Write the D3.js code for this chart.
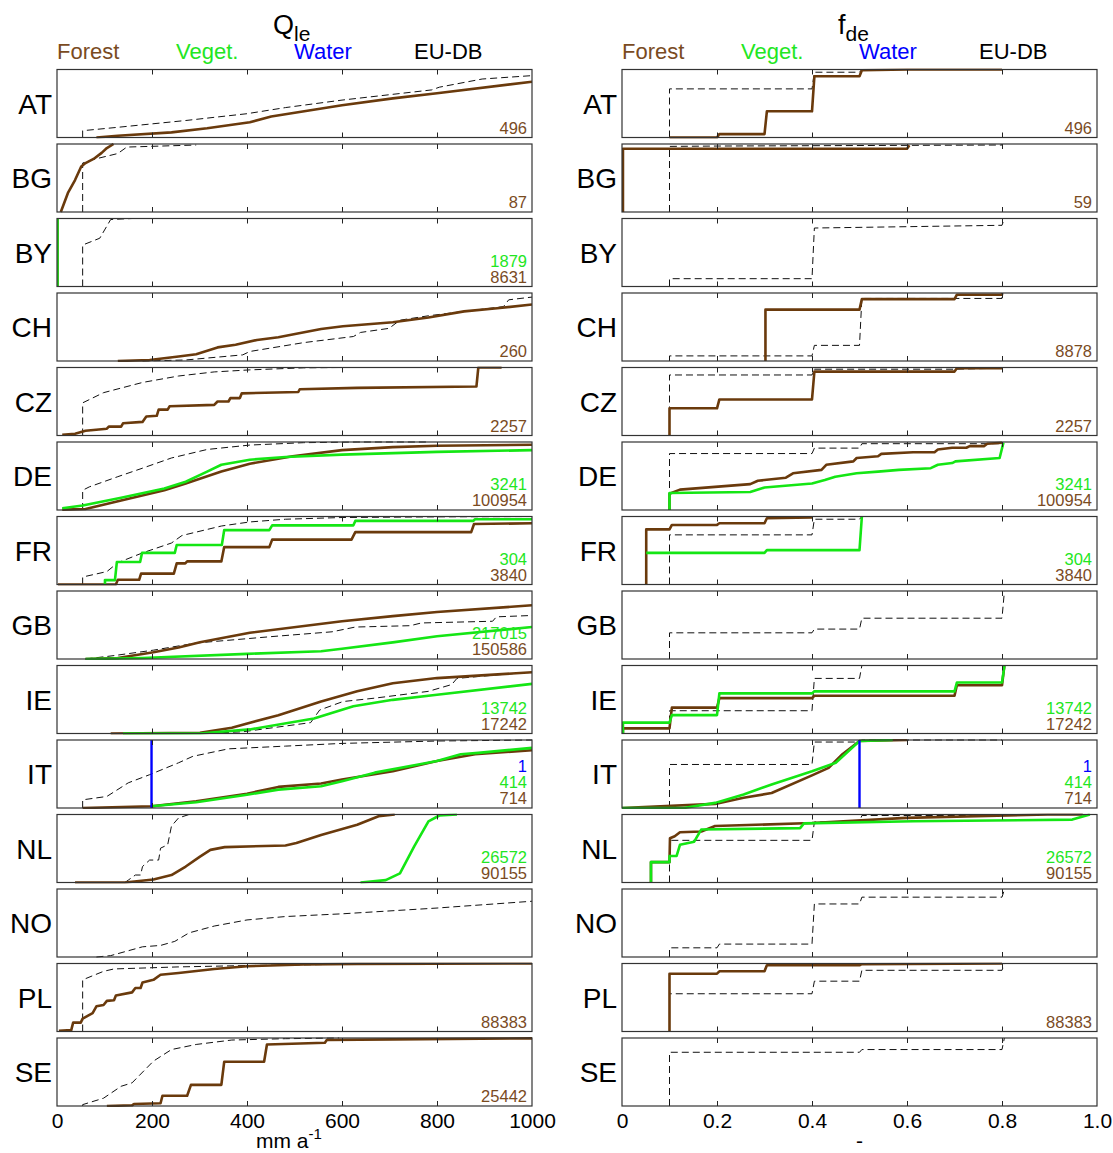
<!DOCTYPE html>
<html>
<head>
<meta charset="utf-8">
<script src="https://cdn.jsdelivr.net/npm/d3@7"></script>
<style>
  body { margin: 0; background: #fff; }
  svg { display: block; }
  text { font-family: "Liberation Sans", Arial, Helvetica, sans-serif; }
</style>
</head>
<body>
<svg id="chart" width="1113" height="1153"></svg>
<script>
// ---------------------------------------------------------------
// Data: cumulative distributions per country, as [value, fraction]
// ---------------------------------------------------------------
const countries = ["AT", "BG", "BY", "CH", "CZ", "DE", "FR", "GB", "IE", "IT", "NL", "NO", "PL", "SE"];
const legendLabels = ["Forest", "Veget.", "Water", "EU-DB"];
const qleTicks = [0, 200, 400, 600, 800, 1000];
const qleTickLabels = ["0", "200", "400", "600", "800", "1000"];
const fdeTicks = [0, 0.2, 0.4, 0.6, 0.8, 1.0];
const fdeTickLabels = ["0", "0.2", "0.4", "0.6", "0.8", "1.0"];

// Q_le (mm a-1), forest
const qleForest = {
  AT: [[83,0],[128,0.025],[241,0.075],[316,0.135],[406,0.225],[451,0.31],[600,0.475],[707,0.575],[800,0.65],[1000,0.82]],
  BG: [[8,0],[23,0.28],[38,0.47],[51,0.67],[60,0.72],[77,0.78],[94,0.87],[105,0.94],[119,1.0]],
  BY: [[1,0],[1,1]],
  CH: [[128,0],[195,0.015],[256,0.065],[293,0.1],[338,0.2],[376,0.24],[421,0.31],[466,0.35],[504,0.4],[556,0.47],[602,0.51],[707,0.57],[782,0.64],[857,0.73],[932,0.78],[1000,0.83]],
  CZ: [[11,0.01],[38,0.025],[60,0.07],[105,0.1],[109,0.13],[135,0.13],[139,0.18],[180,0.2],[188,0.28],[210,0.29],[214,0.38],[233,0.38],[237,0.43],[331,0.45],[338,0.5],[361,0.5],[365,0.55],[385,0.55],[389,0.62],[508,0.64],[511,0.68],[632,0.7],[883,0.72],[887,1.0],[936,1.0]],
  DE: [[11,0.005],[60,0.015],[135,0.14],[226,0.29],[271,0.39],[346,0.565],[406,0.68],[496,0.79],[600,0.88],[707,0.925],[800,0.945],[1000,0.96]],
  FR: [[2,0],[124,0],[128,0.07],[173,0.07],[177,0.16],[246,0.16],[252,0.31],[270,0.31],[274,0.34],[346,0.34],[352,0.55],[447,0.55],[453,0.66],[620,0.66],[628,0.77],[872,0.77],[878,0.89],[1000,0.9]],
  GB: [[60,0],[128,0.015],[203,0.1],[256,0.17],[301,0.245],[406,0.385],[600,0.555],[707,0.63],[800,0.69],[1000,0.79]],
  IE: [[113,0],[301,0.01],[368,0.085],[466,0.27],[556,0.47],[632,0.62],[707,0.74],[800,0.815],[1000,0.9]],
  IT: [[54,0],[199,0.025],[293,0.1],[400,0.21],[466,0.31],[556,0.36],[600,0.42],[707,0.54],[800,0.69],[880,0.79],[1000,0.85]],
  NL: [[38,0],[143,0],[203,0.045],[241,0.11],[271,0.235],[301,0.38],[323,0.48],[353,0.52],[481,0.545],[504,0.58],[556,0.7],[632,0.85],[677,0.975],[711,1.0]],
  PL: [[4,0.01],[30,0.02],[34,0.13],[50,0.13],[54,0.19],[75,0.27],[83,0.37],[98,0.39],[105,0.45],[120,0.46],[124,0.53],[158,0.575],[165,0.64],[176,0.64],[180,0.72],[203,0.76],[218,0.835],[256,0.86],[331,0.92],[400,0.96],[519,0.985],[632,0.995],[1000,1.0]],
  SE: [[105,0],[158,0.01],[162,0.03],[218,0.04],[222,0.15],[274,0.15],[282,0.31],[346,0.31],[352,0.65],[436,0.65],[442,0.905],[564,0.93],[568,0.97],[707,0.98],[1000,0.995]]
};

// Q_le, other vegetation
const qleVeget = {
  BY: [[1,0],[1,1]],
  DE: [[11,0.025],[54,0.065],[135,0.18],[226,0.315],[271,0.415],[316,0.565],[346,0.665],[406,0.74],[481,0.78],[600,0.815],[800,0.855],[1000,0.88]],
  FR: [[101,0],[101,0.065],[122,0.065],[126,0.33],[175,0.33],[179,0.465],[248,0.465],[252,0.58],[347,0.58],[352,0.8],[447,0.8],[453,0.87],[624,0.87],[628,0.935],[876,0.935],[880,0.96],[1000,0.96]],
  GB: [[60,0],[180,0.015],[400,0.075],[556,0.115],[600,0.15],[707,0.245],[800,0.335],[1000,0.47]],
  IE: [[139,0],[301,0],[406,0.06],[541,0.22],[624,0.4],[707,0.495],[800,0.57],[1000,0.73]],
  IT: [[199,0.025],[293,0.085],[400,0.195],[466,0.27],[556,0.32],[600,0.395],[669,0.52],[800,0.69],[850,0.79],[887,0.81],[1000,0.885]],
  NL: [[639,0],[692,0.035],[722,0.135],[752,0.53],[782,0.9],[805,0.985],[842,1.0]]
};

// Q_le, water
const qleWater = {
  IT: [[199,0],[199,1]]
};

// Q_le, EU database
const qleEU = {
  AT: [[54,0],[54,0.1],[128,0.15],[271,0.25],[400,0.35],[481,0.44],[600,0.55],[789,0.7],[805,0.74],[895,0.86],[1000,0.91]],
  BG: [[54,0],[54,0.72],[75,0.77],[128,0.86],[147,0.955],[293,0.985]],
  BY: [[54,0],[54,0.61],[90,0.71],[113,0.985],[158,1.0]],
  CH: [[180,0],[271,0.015],[391,0.09],[406,0.14],[519,0.27],[624,0.36],[639,0.42],[699,0.48],[722,0.6],[782,0.665],[940,0.8],[951,0.9],[1000,0.94]],
  CZ: [[54,0],[54,0.48],[98,0.63],[180,0.78],[256,0.875],[331,0.935],[406,0.965],[519,0.995],[594,1.0]],
  DE: [[54,0],[54,0.29],[68,0.34],[128,0.49],[180,0.615],[241,0.765],[316,0.89],[406,0.955],[519,0.99],[632,1.0],[782,1.0]],
  FR: [[54,0],[54,0.11],[105,0.19],[128,0.32],[180,0.465],[241,0.61],[263,0.72],[346,0.86],[406,0.92],[481,0.96],[600,0.985],[800,0.995],[1000,1.0]],
  GB: [[60,0],[120,0.05],[203,0.13],[293,0.235],[444,0.325],[579,0.4],[628,0.47],[744,0.49],[767,0.53],[917,0.555],[925,0.62],[1000,0.64]],
  IE: [[301,0],[391,0.025],[534,0.16],[553,0.345],[602,0.47],[669,0.52],[782,0.62],[831,0.72],[842,0.81],[932,0.865],[1000,0.9]],
  IT: [[54,0],[54,0.12],[105,0.17],[150,0.37],[195,0.49],[256,0.665],[286,0.76],[361,0.87],[481,0.91],[600,0.95],[800,0.985],[1000,1.0]],
  NL: [[143,0],[150,0.035],[165,0.11],[176,0.11],[180,0.235],[195,0.33],[214,0.33],[218,0.505],[233,0.555],[241,0.83],[256,0.95],[278,1.0],[331,1.0]],
  NO: [[83,0],[113,0.02],[180,0.15],[218,0.17],[248,0.23],[278,0.355],[331,0.455],[400,0.545],[481,0.595],[600,0.635],[800,0.72],[1000,0.82]],
  PL: [[54,0],[54,0.76],[98,0.885],[120,0.92],[256,0.95],[400,0.97],[677,0.995]],
  SE: [[54,0],[54,0.02],[98,0.115],[135,0.29],[158,0.34],[203,0.66],[241,0.83],[293,0.905],[368,0.97],[481,0.99],[594,1.0]]
};

// f_de (-), forest
const fdeForest = {
  AT: [[0.1,0],[0.2,0],[0.205,0.05],[0.3,0.05],[0.305,0.385],[0.4,0.385],[0.405,0.9],[0.5,0.9],[0.505,0.99],[0.6,1.0],[0.8,1.0]],
  BG: [[0.002,0],[0.002,0.93],[0.6,0.93],[0.605,0.98]],
  CH: [[0.302,0],[0.302,0.755],[0.5,0.755],[0.505,0.91],[0.7,0.91],[0.705,0.975],[0.8,0.975],[0.8,1.0]],
  CZ: [[0.1,0],[0.1,0.4],[0.2,0.4],[0.205,0.53],[0.4,0.53],[0.405,0.94],[0.7,0.94],[0.705,0.99],[0.8,0.99]],
  DE: [[0.1,0],[0.1,0.24],[0.122,0.3],[0.196,0.34],[0.27,0.38],[0.286,0.43],[0.345,0.475],[0.36,0.54],[0.42,0.59],[0.43,0.665],[0.487,0.715],[0.494,0.765],[0.539,0.79],[0.546,0.825],[0.613,0.85],[0.658,0.85],[0.665,0.89],[0.695,0.915],[0.725,0.915],[0.732,0.94],[0.762,0.94],[0.769,0.975],[0.8,0.99]],
  FR: [[0.051,0],[0.051,0.81],[0.1,0.81],[0.105,0.876],[0.2,0.876],[0.205,0.9],[0.3,0.9],[0.305,0.975],[0.4,0.985]],
  IE: [[0.002,0],[0.002,0.075],[0.1,0.075],[0.105,0.38],[0.2,0.38],[0.205,0.52],[0.4,0.52],[0.405,0.555],[0.7,0.555],[0.705,0.71],[0.8,0.71],[0.805,1.0]],
  IT: [[0,0],[0.196,0.06],[0.256,0.15],[0.315,0.22],[0.4,0.48],[0.435,0.59],[0.464,0.79],[0.5,0.985],[0.6,1.0]],
  NL: [[0.061,0],[0.061,0.3],[0.1,0.3],[0.101,0.65],[0.111,0.68],[0.122,0.74],[0.167,0.75],[0.196,0.83],[0.4,0.875],[0.598,0.95],[0.896,1.0],[0.97,1.0]],
  PL: [[0.1,0],[0.1,0.85],[0.2,0.85],[0.205,0.885],[0.3,0.885],[0.305,0.975],[0.5,0.975],[0.505,0.99],[0.8,1.0]]
};

// f_de, other vegetation
const fdeVeget = {
  DE: [[0.1,0],[0.1,0.25],[0.27,0.265],[0.3,0.33],[0.4,0.39],[0.427,0.44],[0.449,0.49],[0.494,0.54],[0.539,0.565],[0.583,0.59],[0.65,0.615],[0.665,0.665],[0.695,0.69],[0.702,0.715],[0.795,0.765],[0.803,0.99]],
  FR: [[0.051,0.465],[0.3,0.465],[0.305,0.505],[0.5,0.505],[0.505,1.0]],
  IE: [[0.002,0],[0.002,0.16],[0.1,0.16],[0.105,0.27],[0.2,0.27],[0.205,0.59],[0.4,0.59],[0.405,0.62],[0.7,0.62],[0.705,0.75],[0.8,0.75],[0.805,0.99]],
  IT: [[0,0],[0.13,0],[0.196,0.075],[0.256,0.2],[0.315,0.345],[0.4,0.54],[0.45,0.665],[0.5,0.985],[0.57,1.0]],
  NL: [[0.061,0],[0.061,0.3],[0.1,0.3],[0.1,0.39],[0.115,0.39],[0.122,0.555],[0.152,0.6],[0.167,0.78],[0.375,0.8],[0.383,0.87],[0.613,0.9],[0.948,0.925],[0.985,1.0]]
};

// f_de, water
const fdeWater = {
  IT: [[0.5,0],[0.5,1]]
};

// f_de, EU database
const fdeEU = {
  AT: [[0.1,0],[0.1,0.715],[0.4,0.715],[0.405,0.96],[0.5,0.96],[0.505,1.0],[0.8,1.0]],
  BG: [[0.1,0],[0.1,0.965],[0.2,0.97],[0.8,0.985],[0.8,1.0]],
  BY: [[0.1,0],[0.1,0.115],[0.4,0.115],[0.405,0.86],[0.8,0.9],[0.805,1.0]],
  CH: [[0.1,0],[0.1,0.075],[0.4,0.075],[0.405,0.23],[0.5,0.23],[0.505,0.92],[0.8,0.92],[0.8,1.0]],
  CZ: [[0.1,0],[0.1,0.89],[0.4,0.89],[0.405,0.975],[0.7,0.975],[0.8,0.99],[0.8,1.0]],
  DE: [[0.1,0],[0.1,0.83],[0.4,0.83],[0.405,0.91],[0.5,0.91],[0.505,0.975],[0.8,0.975],[0.8,1.0]],
  FR: [[0.1,0],[0.1,0.73],[0.4,0.73],[0.405,0.96],[0.5,0.96],[0.505,1.0],[0.8,1.0]],
  GB: [[0.1,0],[0.1,0.385],[0.4,0.385],[0.405,0.44],[0.5,0.44],[0.505,0.6],[0.8,0.6],[0.805,0.99]],
  IE: [[0.1,0],[0.1,0.335],[0.4,0.335],[0.405,0.81],[0.5,0.81],[0.505,1.0],[0.8,1.0]],
  IT: [[0.1,0],[0.1,0.64],[0.4,0.64],[0.405,0.97],[0.5,0.97],[0.505,1.0],[0.8,1.0]],
  NL: [[0.1,0],[0.1,0.62],[0.4,0.62],[0.405,0.89],[0.5,0.89],[0.505,0.985],[0.8,0.985]],
  NO: [[0.1,0],[0.1,0.135],[0.2,0.135],[0.205,0.19],[0.4,0.19],[0.405,0.78],[0.5,0.78],[0.505,0.88],[0.8,0.88],[0.805,0.99]],
  PL: [[0.1,0],[0.1,0.555],[0.4,0.555],[0.405,0.74],[0.5,0.74],[0.505,0.9],[0.8,0.9],[0.805,1.0]],
  SE: [[0.1,0],[0.1,0.79],[0.5,0.79],[0.505,0.83],[0.8,0.83],[0.805,1.0]]
};

// Number of samples per land-cover class
const qleCountForest = { AT: 496, BG: 87, BY: 8631, CH: 260, CZ: 2257, DE: 100954, FR: 3840, GB: 150586, IE: 17242, IT: 714, NL: 90155, PL: 88383, SE: 25442 };
const qleCountVeget  = { BY: 1879, DE: 3241, FR: 304, GB: 217015, IE: 13742, IT: 414, NL: 26572 };
const qleCountWater  = { IT: 1 };
const fdeCountForest = { AT: 496, BG: 59, CH: 8878, CZ: 2257, DE: 100954, FR: 3840, IE: 17242, IT: 714, NL: 90155, PL: 88383 };
const fdeCountVeget  = { DE: 3241, FR: 304, IE: 13742, IT: 414, NL: 26572 };
const fdeCountWater  = { IT: 1 };

// ---------------------------------------------------------------
// Styling and layout
// ---------------------------------------------------------------
const COLORS = {
  forest: "#6a3a0c",
  forestText: "#7a4b1f",
  veget: "#14e614",
  vegetText: "#22e622",
  water: "#0000ff",
  eu: "#111111"
};
const legendColors = [COLORS.forestText, COLORS.vegetText, COLORS.water, "#000"];
const legendOffsets = [0, 119, 237, 357];

const panelTop0 = 69.5, panelPitch = 74.5, panelH = 68;

const svg = d3.select("#chart");

const columns = [
  {
    x0: 57, x1: 532, domain: [0, 1000], ticks: qleTicks, tickLabels: qleTickLabels,
    forest: qleForest, veget: qleVeget, water: qleWater, eu: qleEU,
    nForest: qleCountForest, nVeget: qleCountVeget, nWater: qleCountWater,
    title: ["Q", "le"], titleX: 273, unit: "mm a", unitSup: "-1", unitX: 256
  },
  {
    x0: 622, x1: 1097, domain: [0, 1], ticks: fdeTicks, tickLabels: fdeTickLabels,
    forest: fdeForest, veget: fdeVeget, water: fdeWater, eu: fdeEU,
    nForest: fdeCountForest, nVeget: fdeCountVeget, nWater: fdeCountWater,
    title: ["f", "de"], titleX: 838, unit: "-", unitSup: null, unitX: 856
  }
];

columns.forEach((col, ci) => {
  const x = d3.scaleLinear().domain(col.domain).range([col.x0, col.x1]);
  const g = svg.append("g").attr("class", "column-" + ci);

  // Title with subscript
  const t = g.append("text").attr("x", col.titleX).attr("y", 34)
    .attr("font-size", 27).attr("fill", "#000");
  t.append("tspan").text(col.title[0]);
  t.append("tspan").attr("dy", 7).attr("font-size", 21).text(col.title[1]);

  // Legend row
  legendLabels.forEach((lab, i) => {
    g.append("text")
      .attr("x", col.x0 + legendOffsets[i])
      .attr("y", 59)
      .attr("font-size", 22)
      .attr("fill", legendColors[i])
      .text(lab);
  });

  countries.forEach((c, pi) => {
    const top = panelTop0 + pi * panelPitch;
    const bottom = top + panelH;
    const y = d3.scaleLinear().domain([0, 1]).range([bottom, top]);
    const p = g.append("g").attr("class", "panel panel-" + c);

    const clipId = "clip-" + ci + "-" + c;
    p.append("clipPath").attr("id", clipId)
      .append("rect").attr("x", col.x0).attr("y", top - 1)
      .attr("width", col.x1 - col.x0).attr("height", panelH + 2);

    const line = d3.line().x(d => x(d[0])).y(d => y(d[1]));
    const plot = p.append("g").attr("clip-path", "url(#" + clipId + ")");

    if (col.eu[c]) {
      plot.append("path").datum(col.eu[c]).attr("d", line)
        .attr("fill", "none").attr("stroke", COLORS.eu)
        .attr("stroke-width", 1).attr("stroke-dasharray", "7,4");
    }
    if (col.forest[c]) {
      plot.append("path").datum(col.forest[c]).attr("d", line)
        .attr("fill", "none").attr("stroke", COLORS.forest)
        .attr("stroke-width", 2.6).attr("stroke-linejoin", "round");
    }
    if (col.veget[c]) {
      plot.append("path").datum(col.veget[c]).attr("d", line)
        .attr("fill", "none").attr("stroke", COLORS.veget)
        .attr("stroke-width", 2.6).attr("stroke-linejoin", "round");
    }
    if (col.water[c]) {
      plot.append("path").datum(col.water[c]).attr("d", line)
        .attr("fill", "none").attr("stroke", COLORS.water)
        .attr("stroke-width", 2.4);
    }

    // Inner ticks on top and bottom edges
    const inner = col.ticks.slice(1, -1);
    p.append("g").attr("transform", `translate(0,${bottom})`)
      .call(d3.axisTop(x).tickValues(inner).tickSize(5).tickFormat(""))
      .call(a => a.select(".domain").remove())
      .call(a => a.selectAll("line").attr("stroke", "#222"));
    p.append("g").attr("transform", `translate(0,${top})`)
      .call(d3.axisBottom(x).tickValues(inner).tickSize(5).tickFormat(""))
      .call(a => a.select(".domain").remove())
      .call(a => a.selectAll("line").attr("stroke", "#222"));

    // Panel frame
    p.append("rect").attr("x", col.x0).attr("y", top)
      .attr("width", col.x1 - col.x0).attr("height", panelH)
      .attr("fill", "none").attr("stroke", "#333").attr("stroke-width", 1.2);

    // Country label
    p.append("text").attr("x", col.x0 - 5).attr("y", top + panelH / 2 + 10)
      .attr("text-anchor", "end").attr("font-size", 28).attr("fill", "#000")
      .text(c);

    // Sample counts, stacked from the bottom up
    const counts = [];
    if (col.nForest[c] != null) counts.push([col.nForest[c], COLORS.forestText]);
    if (col.nVeget[c] != null) counts.push([col.nVeget[c], COLORS.vegetText]);
    if (col.nWater[c] != null) counts.push([col.nWater[c], COLORS.water]);
    counts.forEach((d, k) => {
      p.append("text").attr("x", col.x1 - 5).attr("y", bottom - 4 - k * 16)
        .attr("text-anchor", "end").attr("font-size", 16.5).attr("fill", d[1])
        .text(d[0]);
    });

    // Tick labels under the last panel
    if (pi === countries.length - 1) {
      const ax = p.append("g").attr("transform", `translate(0,${bottom})`)
        .call(d3.axisBottom(x).tickValues(col.ticks).tickSize(0)
          .tickFormat((d, i) => col.tickLabels[i]))
        .call(a => a.select(".domain").remove());
      ax.selectAll("text").attr("font-size", 21).attr("fill", "#000")
        .attr("dy", 0).attr("y", 22)
        .attr("font-family", '"Liberation Sans", Arial, sans-serif');

      const u = g.append("text").attr("x", col.unitX).attr("y", 1148)
        .attr("font-size", 21).attr("fill", "#000");
      u.append("tspan").text(col.unit);
      if (col.unitSup) u.append("tspan").attr("dy", -9).attr("font-size", 15).text(col.unitSup);
    }
  });
});
</script>
</body>
</html>
